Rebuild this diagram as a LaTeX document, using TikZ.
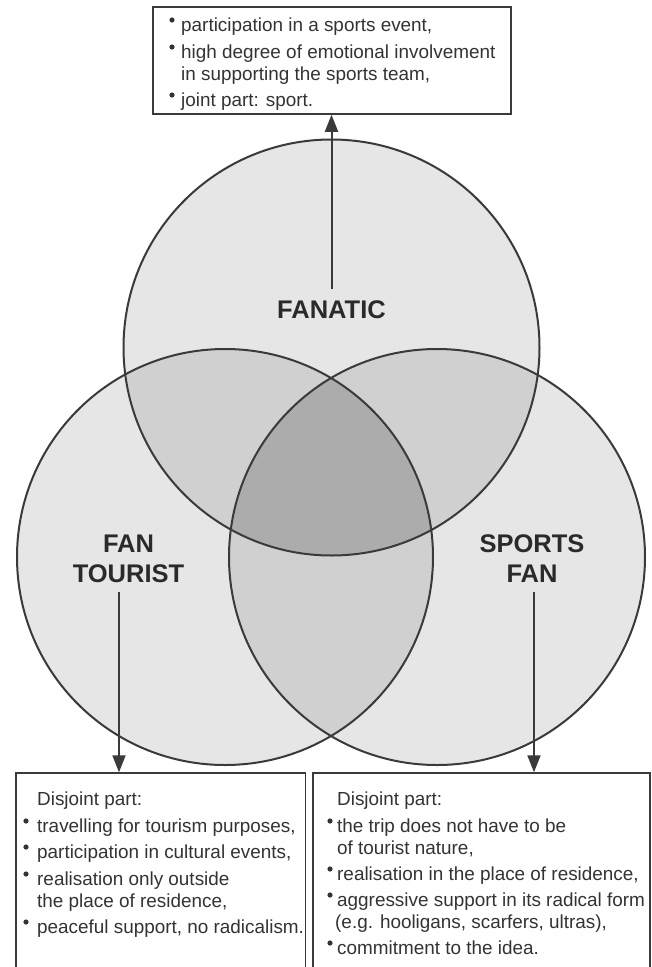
\documentclass[tikz,border=0pt]{standalone}
\usepackage{fontspec}
\setmainfont{Liberation Sans}
\usetikzlibrary{arrows.meta}
\definecolor{one}{HTML}{E6E6E6}
\definecolor{two}{HTML}{D0D0D0}
\definecolor{three}{HTML}{ACACAC}
\definecolor{ink}{HTML}{3A3A3A}
\definecolor{txt}{HTML}{333333}
\definecolor{ttl}{HTML}{2A2A2A}
\begin{document}
\begin{tikzpicture}[x=1pt,y=-1pt,
  outline/.style={draw=ink,line width=2pt},
  box/.style={draw=ink,line width=1.5pt,fill=white,inner sep=0pt},
  arr/.style={draw=ink,line width=2pt,-{Triangle[length=17pt,width=13pt]}},
  body/.style={anchor=base west,inner sep=0pt,text=txt,font=\fontsize{18.9}{22}\selectfont},
  title/.style={anchor=base,inner sep=0pt,text=ttl,font=\bfseries\fontsize{25.5}{30}\selectfont},
  dot/.style={fill=txt}]
\useasboundingbox (0,0) rectangle (652,967);
\clip (0,0) rectangle (652,967);
\fill[white] (0,0) rectangle (652,967);
\coordinate (T) at (331.5,347.5);
\coordinate (L) at (225,557);
\coordinate (R) at (437,557);
% single
\fill[one] (T) circle[radius=208pt];
\fill[one] (L) circle[radius=208pt];
\fill[one] (R) circle[radius=208pt];
% pairs
\begin{scope}\clip (T) circle[radius=208pt]; \fill[two] (L) circle[radius=208pt]; \fill[two] (R) circle[radius=208pt];\end{scope}
\begin{scope}\clip (L) circle[radius=208pt]; \fill[two] (R) circle[radius=208pt];\end{scope}
% triple
\begin{scope}\clip (T) circle[radius=208pt]; \clip (L) circle[radius=208pt]; \fill[three] (R) circle[radius=208pt];\end{scope}
% outlines
\draw[outline] (T) circle[radius=208pt];
\draw[outline] (L) circle[radius=208pt];
\draw[outline] (R) circle[radius=208pt];

% boxes
\node[box, minimum width=358pt, minimum height=107pt] (topbox) at (332,60.5) {};
\node[box, minimum width=289.5pt, minimum height=227pt] (lbox) at (160.75,886.5) {};
\node[box, minimum width=337pt, minimum height=227pt] (rbox) at (481.5,886.5) {};

% titles
\node[title] (fanatic) at (331.5,318) {FANATIC};
\node[title] (fan1) at (128.5,552) {FAN};
\node[title] (tourist) at (128.5,582) {TOURIST};
\node[title] (sports) at (532,552) {SPORTS};
\node[title] (fan2) at (532,582) {FAN};

% arrows
\coordinate (fa) at (331.5,289);
\coordinate (la) at (119,592);
\coordinate (ra) at (534,592);
\draw[arr] (fa) -- (fa |- topbox.south);
\draw[arr] (la) -- (la |- lbox.north);
\draw[arr] (ra) -- (ra |- rbox.north);

% top box text
\fill[dot] (172,20) circle[radius=2.6pt];
\node[body] (t1) at (181,31) {participation in a sports event,};
\fill[dot] (172,47) circle[radius=2.6pt];
\node[body] (t2) at (181,58) {high degree of emotional involvement};
\node[body] (t3) at (181,80) {in supporting the sports team,};
\fill[dot] (172,95) circle[radius=2.6pt];
\node[body] (t4) at (181,106) {joint part: sport.};

% left box text
\node[body] (l0) at (37,805) {Disjoint part:};
\fill[dot] (26,821) circle[radius=2.6pt];
\node[body] (l1) at (37,832) {travelling for tourism purposes,};
\fill[dot] (26,847) circle[radius=2.6pt];
\node[body] (l2) at (37,858) {participation in cultural events,};
\fill[dot] (26,874) circle[radius=2.6pt];
\node[body] (l3) at (37,885) {realisation only outside};
\node[body] (l4) at (37,907) {the place of residence,};
\fill[dot] (26,922) circle[radius=2.6pt];
\node[body] (l5) at (37,933) {peaceful support, no radicalism.};

% right box text
\node[body] (r0) at (337,805) {Disjoint part:};
\fill[dot] (330,821) circle[radius=2.6pt];
\node[body] (r1) at (337,832) {the trip does not have to be};
\node[body] (r2) at (337,854) {of tourist nature,};
\fill[dot] (330,869) circle[radius=2.6pt];
\node[body] (r3) at (337,880) {realisation in the place of residence,};
\fill[dot] (330,895) circle[radius=2.6pt];
\node[body] (r4) at (337,906) {aggressive support in its radical form};
\node[body] (r5) at (335,928) {(e.g. hooligans, scarfers, ultras),};
\fill[dot] (330,943) circle[radius=2.6pt];
\node[body] (r6) at (337,954) {commitment to the idea.};
\end{tikzpicture}
\end{document}
